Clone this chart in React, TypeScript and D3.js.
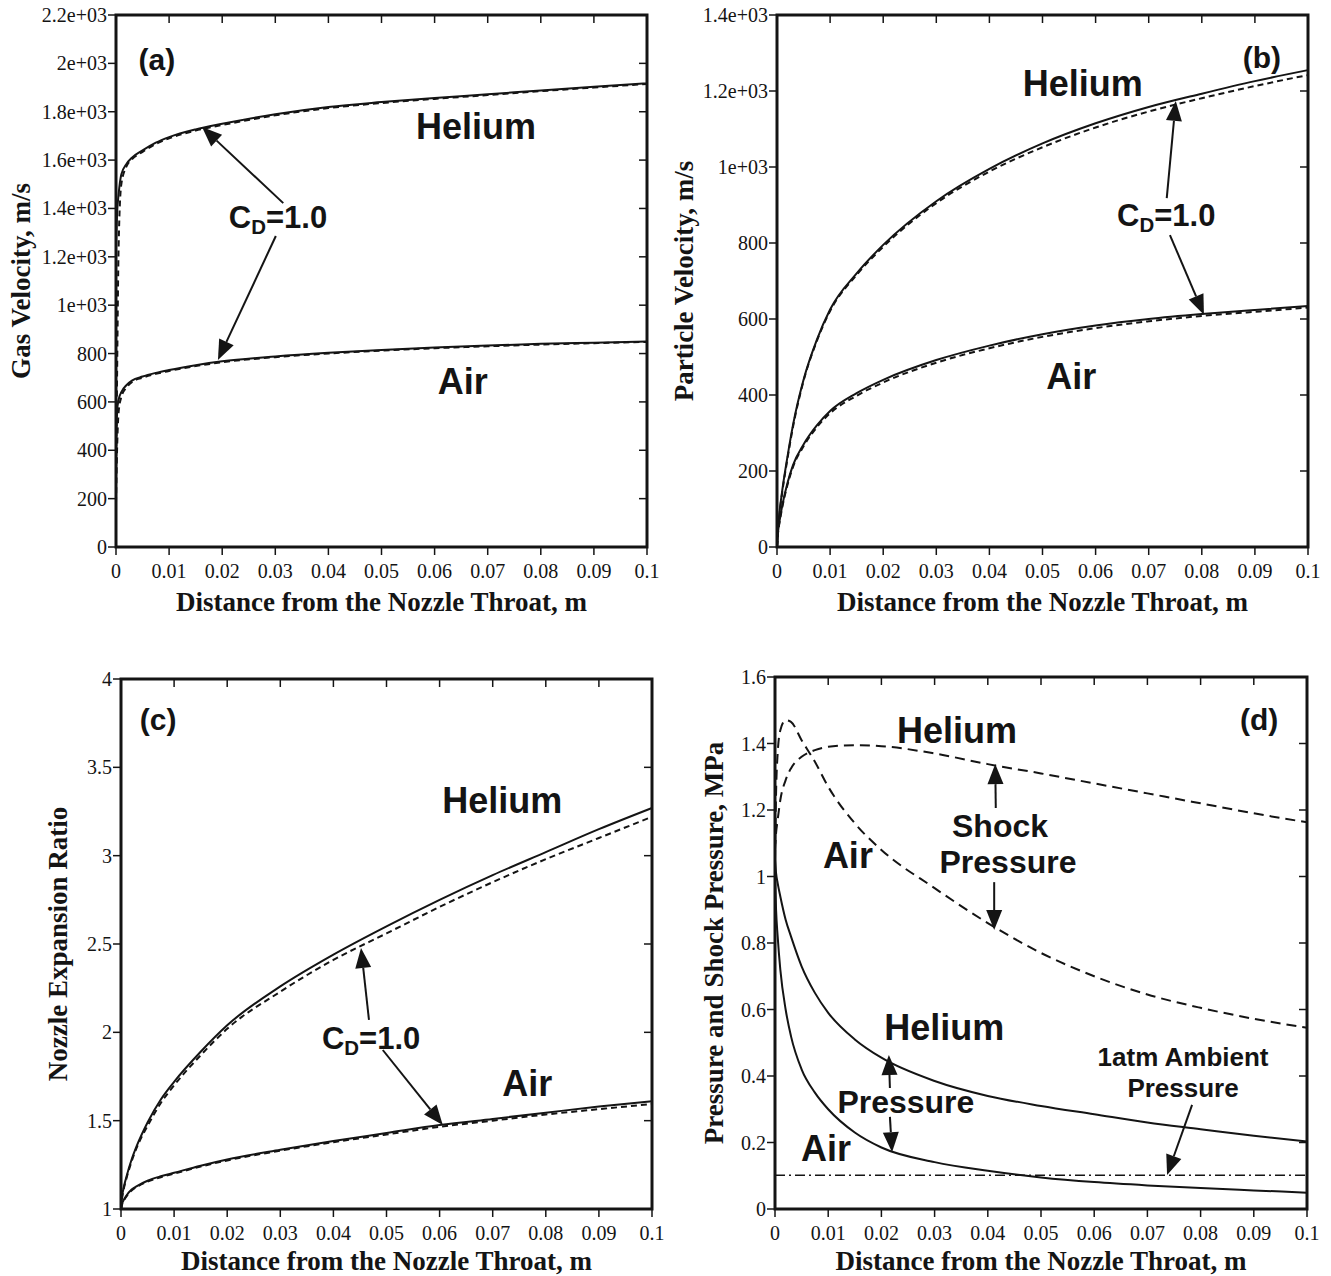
import React from 'react';
import * as d3 from 'd3';

// shared x grid (m)
const X = [0, 0.0002, 0.0005, 0.001, 0.002, 0.003, 0.005, 0.0075, 0.01, 0.015, 0.02, 0.03, 0.04, 0.05, 0.06, 0.07, 0.08, 0.09, 0.1];
const xTicks = [0, 0.01, 0.02, 0.03, 0.04, 0.05, 0.06, 0.07, 0.08, 0.09, 0.1];
const xTickLabels = ['0', '0.01', '0.02', '0.03', '0.04', '0.05', '0.06', '0.07', '0.08', '0.09', '0.1'];

// (a) gas velocity
const gasHeSolid = [1250, 1380, 1460, 1540, 1585, 1610, 1640, 1672, 1695, 1727, 1750, 1790, 1820, 1840, 1857, 1872, 1888, 1903, 1918];
const gasHeDash = [250, 700, 1250, 1500, 1575, 1603, 1634, 1667, 1690, 1722, 1745, 1785, 1815, 1836, 1853, 1869, 1885, 1900, 1915];
const gasAirSolid = [420, 560, 610, 640, 670, 688, 705, 720, 732, 752, 768, 788, 803, 815, 825, 833, 840, 845, 850];
const gasAirDash = [180, 400, 560, 620, 660, 682, 700, 716, 728, 748, 764, 785, 800, 812, 822, 830, 837, 843, 848];
const gasYTicks = [0, 200, 400, 600, 800, 1000, 1200, 1400, 1600, 1800, 2000, 2200];
const gasYLabels = ['0', '200', '400', '600', '800', '1e+03', '1.2e+03', '1.4e+03', '1.6e+03', '1.8e+03', '2e+03', '2.2e+03'];

// (b) particle velocity
const parHeSolid = [0, 50, 95, 150, 240, 320, 440, 545, 625, 720, 795, 910, 995, 1062, 1115, 1158, 1193, 1226, 1255];
const parHeDash = [0, 45, 90, 145, 235, 315, 437, 542, 621, 716, 790, 905, 988, 1052, 1104, 1146, 1181, 1213, 1242];
const parAirSolid = [0, 40, 70, 110, 170, 215, 270, 320, 358, 405, 440, 492, 530, 560, 583, 600, 613, 624, 634];
const parAirDash = [0, 38, 66, 105, 165, 210, 265, 315, 352, 398, 433, 485, 523, 553, 576, 594, 608, 619, 630];
const parYTicks = [0, 200, 400, 600, 800, 1000, 1200, 1400];
const parYLabels = ['0', '200', '400', '600', '800', '1e+03', '1.2e+03', '1.4e+03'];

// (c) nozzle expansion ratio
const nozHeSolid = [1, 1.07, 1.12, 1.18, 1.28, 1.36, 1.49, 1.62, 1.72, 1.89, 2.04, 2.26, 2.44, 2.6, 2.75, 2.89, 3.02, 3.15, 3.27];
const nozHeDash = [1, 1.06, 1.11, 1.17, 1.27, 1.35, 1.47, 1.6, 1.7, 1.87, 2.02, 2.23, 2.41, 2.56, 2.71, 2.85, 2.98, 3.1, 3.22];
const nozAirSolid = [1, 1.03, 1.05, 1.075, 1.11, 1.13, 1.16, 1.185, 1.205, 1.245, 1.28, 1.335, 1.385, 1.43, 1.475, 1.51, 1.545, 1.58, 1.61];
const nozAirDash = [1, 1.025, 1.045, 1.07, 1.105, 1.125, 1.155, 1.18, 1.2, 1.24, 1.275, 1.33, 1.378, 1.422, 1.465, 1.5, 1.535, 1.565, 1.595];
const nozYTicks = [1, 1.5, 2, 2.5, 3, 3.5, 4];
const nozYLabels = ['1', '1.5', '2', '2.5', '3', '3.5', '4'];

// (d) pressure and shock pressure
const shockHe = [1.08, 1.13, 1.17, 1.23, 1.29, 1.325, 1.36, 1.38, 1.39, 1.395, 1.392, 1.37, 1.338, 1.31, 1.28, 1.25, 1.22, 1.19, 1.163];
const shockAir = [1.05, 1.25, 1.37, 1.44, 1.47, 1.465, 1.41, 1.345, 1.27, 1.16, 1.08, 0.965, 0.86, 0.77, 0.7, 0.645, 0.605, 0.572, 0.545];
const presHe = [1.05, 1.01, 0.98, 0.94, 0.87, 0.82, 0.73, 0.65, 0.59, 0.51, 0.455, 0.385, 0.34, 0.31, 0.285, 0.26, 0.24, 0.22, 0.203];
const presAir = [1.0, 0.9, 0.82, 0.72, 0.6, 0.52, 0.42, 0.35, 0.3, 0.23, 0.185, 0.141, 0.115, 0.095, 0.081, 0.071, 0.063, 0.056, 0.049];
const ambientP = 0.1013;
const presYTicks = [0, 0.2, 0.4, 0.6, 0.8, 1, 1.2, 1.4, 1.6];
const presYLabels = ['0', '0.2', '0.4', '0.6', '0.8', '1', '1.2', '1.4', '1.6'];

const INK = '#141414';
const SERIF = '"Liberation Serif", "Times New Roman", serif';
const SANS = '"Liberation Sans", Arial, Helvetica, sans-serif';

type Label = { x: number; y: number; text: string; size: number; sub?: boolean };
type Arrow = { x1: number; y1: number; x2: number; y2: number };
type Series = { values: number[]; dash?: string };
type Cfg = {
  left: number; top: number; width: number; height: number;
  yDomain: [number, number]; yTicks: number[]; yLabels: string[];
  yTitle: string; yTitleX: number; xTitleDy: number;
  series: Series[]; labels: Label[]; arrows: Arrow[]; hline?: number;
};

const panels: Cfg[] = [
  {
    left: 116, top: 15, width: 531, height: 532, yDomain: [0, 2200], yTicks: gasYTicks, yLabels: gasYLabels,
    yTitle: 'Gas Velocity, m/s', yTitleX: 21, xTitleDy: 64,
    series: [
      { values: gasHeDash, dash: '6,4' }, { values: gasAirDash, dash: '6,4' },
      { values: gasHeSolid }, { values: gasAirSolid },
    ],
    labels: [
      { x: 0.0077, y: 2014, text: '(a)', size: 30 },
      { x: 0.0678, y: 1737, text: 'Helium', size: 36 },
      { x: 0.0305, y: 1365, text: 'C=1.0', size: 31, sub: true },
      { x: 0.0653, y: 686, text: 'Air', size: 36 },
    ],
    arrows: [
      { x1: 0.0315, y1: 1422, x2: 0.0162, y2: 1737 },
      { x1: 0.0301, y1: 1286, x2: 0.0192, y2: 773 },
    ],
  },
  {
    left: 777, top: 15, width: 531, height: 532, yDomain: [0, 1400], yTicks: parYTicks, yLabels: parYLabels,
    yTitle: 'Particle Velocity, m/s', yTitleX: 684, xTitleDy: 64,
    series: [
      { values: parHeDash, dash: '6,4' }, { values: parAirDash, dash: '6,4' },
      { values: parHeSolid }, { values: parAirSolid },
    ],
    labels: [
      { x: 0.0913, y: 1289, text: '(b)', size: 30 },
      { x: 0.0576, y: 1221, text: 'Helium', size: 36 },
      { x: 0.0733, y: 874, text: 'C=1.0', size: 31, sub: true },
      { x: 0.0554, y: 450, text: 'Air', size: 36 },
    ],
    arrows: [
      { x1: 0.0734, y1: 918, x2: 0.0751, y2: 1174 },
      { x1: 0.074, y1: 821, x2: 0.0804, y2: 611 },
    ],
  },
  {
    left: 121, top: 679, width: 531, height: 530, yDomain: [1, 4], yTicks: nozYTicks, yLabels: nozYLabels,
    yTitle: 'Nozzle Expansion Ratio', yTitleX: 58, xTitleDy: 61,
    series: [
      { values: nozHeDash, dash: '6,4' }, { values: nozAirDash, dash: '6,4' },
      { values: nozHeSolid }, { values: nozAirSolid },
    ],
    labels: [
      { x: 0.007, y: 3.768, text: '(c)', size: 30 },
      { x: 0.0718, y: 3.315, text: 'Helium', size: 36 },
      { x: 0.0471, y: 1.968, text: 'C=1.0', size: 31, sub: true },
      { x: 0.0765, y: 1.713, text: 'Air', size: 36 },
    ],
    arrows: [
      { x1: 0.0467, y1: 2.07, x2: 0.0452, y2: 2.477 },
      { x1: 0.0493, y1: 1.9, x2: 0.0606, y2: 1.475 },
    ],
  },
  {
    left: 775, top: 677, width: 532, height: 532, yDomain: [0, 1.6], yTicks: presYTicks, yLabels: presYLabels,
    yTitle: 'Pressure and Shock Pressure, MPa', yTitleX: 714, xTitleDy: 61,
    series: [
      { values: shockHe, dash: '10,6' }, { values: shockAir, dash: '10,6' },
      { values: presHe }, { values: presAir },
    ],
    hline: ambientP,
    labels: [
      { x: 0.091, y: 1.471, text: '(d)', size: 30 },
      { x: 0.0342, y: 1.438, text: 'Helium', size: 36 },
      { x: 0.0423, y: 1.152, text: 'Shock', size: 32 },
      { x: 0.0438, y: 1.044, text: 'Pressure', size: 32 },
      { x: 0.0137, y: 1.062, text: 'Air', size: 36 },
      { x: 0.0318, y: 0.547, text: 'Helium', size: 36 },
      { x: 0.0246, y: 0.322, text: 'Pressure', size: 32 },
      { x: 0.0096, y: 0.183, text: 'Air', size: 36 },
      { x: 0.0767, y: 0.457, text: '1atm Ambient', size: 26 },
      { x: 0.0767, y: 0.364, text: 'Pressure', size: 26 },
    ],
    arrows: [
      { x1: 0.0415, y1: 1.206, x2: 0.0414, y2: 1.338 },
      { x1: 0.0412, y1: 0.983, x2: 0.0412, y2: 0.839 },
      { x1: 0.0216, y1: 0.364, x2: 0.0214, y2: 0.463 },
      { x1: 0.0216, y1: 0.277, x2: 0.022, y2: 0.171 },
      { x1: 0.0784, y1: 0.313, x2: 0.0737, y2: 0.102 },
    ],
  },
];

function ArrowMark({ x1, y1, x2, y2 }: { x1: number; y1: number; x2: number; y2: number }) {
  const dx = x2 - x1, dy = y2 - y1;
  const len = Math.hypot(dx, dy) || 1;
  const ux = dx / len, uy = dy / len;
  const hl = 20, hw = 8;
  const bx = x2 - ux * hl, by = y2 - uy * hl;
  const pts = [
    [x2, y2],
    [bx - uy * hw, by + ux * hw],
    [bx + uy * hw, by - ux * hw],
  ].map((p) => p.join(',')).join(' ');
  return (
    <g>
      <line x1={x1} y1={y1} x2={bx} y2={by} stroke={INK} strokeWidth={2} />
      <polygon points={pts} fill={INK} />
    </g>
  );
}

function Panel({ cfg }: { cfg: Cfg }) {
  const x = d3.scaleLinear().domain([0, 0.1]).range([cfg.left, cfg.left + cfg.width]);
  const y = d3.scaleLinear().domain(cfg.yDomain).range([cfg.top + cfg.height, cfg.top]);
  const line = d3
    .line<number>()
    .x((_, i) => x(X[i]))
    .y((d) => y(d))
    .curve(d3.curveMonotoneX);
  const x0 = cfg.left, x1 = cfg.left + cfg.width, y0 = cfg.top + cfg.height, y1 = cfg.top;
  const tk = 8;
  return (
    <g>
      {cfg.series.map((s, i) => (
        <path key={i} d={line(s.values) || ''} fill="none" stroke={INK} strokeWidth={2}
          strokeDasharray={s.dash} strokeLinejoin="round" />
      ))}
      {cfg.hline !== undefined && (
        <line x1={x0} x2={x1} y1={y(cfg.hline)} y2={y(cfg.hline)} stroke={INK} strokeWidth={1.6}
          strokeDasharray="10,4,2,4" />
      )}
      <rect x={x0} y={y1} width={x1 - x0} height={y0 - y1} fill="none" stroke={INK} strokeWidth={3} />
      {cfg.yTicks.map((t, i) => (
        <g key={'y' + i}>
          <line x1={x0 - tk} x2={x0} y1={y(t)} y2={y(t)} stroke={INK} strokeWidth={1.5} />
          <line x1={x1 - tk} x2={x1} y1={y(t)} y2={y(t)} stroke={INK} strokeWidth={1.5} />
          <text x={x0 - tk - 1} y={y(t)} textAnchor="end" dominantBaseline="central"
            fontFamily={SERIF} fontSize={20} fill={INK}>{cfg.yLabels[i]}</text>
        </g>
      ))}
      {xTicks.map((t, i) => (
        <g key={'x' + i}>
          <line x1={x(t)} x2={x(t)} y1={y0} y2={y0 + tk} stroke={INK} strokeWidth={1.5} />
          <line x1={x(t)} x2={x(t)} y1={y1} y2={y1 + tk} stroke={INK} strokeWidth={1.5} />
          <text x={x(t)} y={y0 + 31} textAnchor="middle" fontFamily={SERIF} fontSize={20} fill={INK}>
            {xTickLabels[i]}
          </text>
        </g>
      ))}
      <text x={(x0 + x1) / 2} y={y0 + cfg.xTitleDy} textAnchor="middle" fontFamily={SERIF} fontWeight="bold"
        fontSize={27} fill={INK}>Distance from the Nozzle Throat, m</text>
      <text transform={`translate(${cfg.yTitleX},${(y0 + y1) / 2}) rotate(-90)`} textAnchor="middle"
        dominantBaseline="central" fontFamily={SERIF} fontWeight="bold" fontSize={27} fill={INK}>
        {cfg.yTitle}
      </text>
      {cfg.arrows.map((a, i) => (
        <ArrowMark key={'a' + i} x1={x(a.x1)} y1={y(a.y1)} x2={x(a.x2)} y2={y(a.y2)} />
      ))}
      {cfg.labels.map((l, i) => (
        <text key={'l' + i} x={x(l.x)} y={y(l.y)} textAnchor="middle" dominantBaseline="central"
          fontFamily={SANS} fontWeight="bold" fontSize={l.size} fill={INK}>
          {l.sub ? (
            <>
              <tspan>C</tspan>
              <tspan fontSize={l.size * 0.66} dy={l.size * 0.28}>D</tspan>
              <tspan dy={-l.size * 0.28}>=1.0</tspan>
            </>
          ) : (
            l.text
          )}
        </text>
      ))}
    </g>
  );
}

export default function App() {
  return (
    <svg width={1331} height={1276} viewBox="0 0 1331 1276"
      style={{ position: 'absolute', left: 0, top: 0, background: '#fff' }}>
      <rect x={0} y={0} width={1331} height={1276} fill="#fff" />
      {panels.map((p, i) => (
        <Panel key={i} cfg={p} />
      ))}
    </svg>
  );
}
